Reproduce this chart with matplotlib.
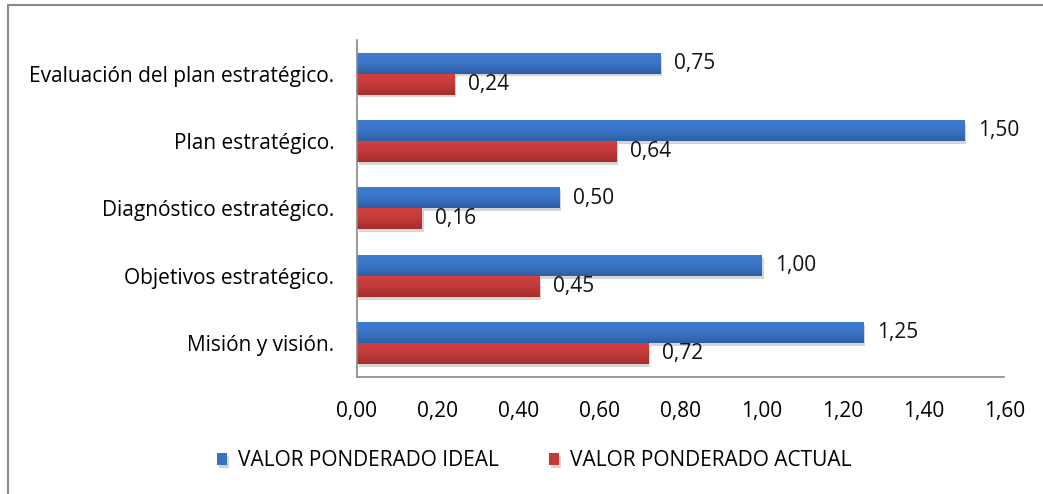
import matplotlib
matplotlib.use("Agg")
import matplotlib.pyplot as plt
import matplotlib.patheffects as pe
from matplotlib.patches import Rectangle
from matplotlib.colors import LinearSegmentedColormap
import numpy as np

plt.rcParams['font.family'] = ['Open Sans', 'DejaVu Sans']

categorias = ["Misión y visión.", "Objetivos estratégico.", "Diagnóstico estratégico.",
              "Plan estratégico.", "Evaluación del plan estratégico."]
valor_ideal = [1.25, 1.00, 0.50, 1.50, 0.75]
valor_actual = [0.72, 0.45, 0.16, 0.64, 0.24]
ticks_x = [0.0, 0.2, 0.4, 0.6, 0.8, 1.0, 1.2, 1.4, 1.6]

azul = "#3A72C2"
rojo = "#C23B3A"
grad_azul = LinearSegmentedColormap.from_list("azul", ["#2E5FA3", "#3A74C6", "#3E7CD1"])
grad_rojo = LinearSegmentedColormap.from_list("rojo", ["#A22E2D", "#C23A39", "#D0413F"])

fs = 15

fig = plt.figure(figsize=(10.43, 4.94), dpi=100)
ax = fig.add_axes([0.342, 0.237, 0.621, 0.682])

y = np.arange(len(categorias))
h = 0.31
sombra = [pe.SimplePatchShadow(offset=(1.5, -2), shadow_rgbFace="#888888", alpha=0.35), pe.Normal()]

b1 = ax.barh(y + h / 2, valor_ideal, height=h, color=azul, label="VALOR PONDERADO IDEAL",
             path_effects=sombra)
b2 = ax.barh(y - h / 2, valor_actual, height=h, color=rojo, label="VALOR PONDERADO ACTUAL",
             path_effects=sombra)

# degradado vertical sobre cada barra
grad = np.linspace(0, 1, 64).reshape(-1, 1)
for barras, cmap in ((b1, grad_azul), (b2, grad_rojo)):
    for rect in barras:
        x0, y0 = rect.get_x(), rect.get_y()
        ax.imshow(grad, cmap=cmap, aspect="auto", origin="lower", zorder=2.5,
                  extent=(x0, x0 + rect.get_width(), y0, y0 + rect.get_height()))

for barras, vals in ((b1, valor_ideal), (b2, valor_actual)):
    for rect, v in zip(barras, vals):
        ax.annotate(f"{v:.2f}".replace(".", ","),
                    (rect.get_width(), rect.get_y() + rect.get_height() / 2),
                    xytext=(10, 0), textcoords="offset points", va="center", ha="left",
                    fontsize=fs, color="#111111")

ax.set_xlim(0, 1.6)
ax.set_ylim(-0.5, len(categorias) - 0.5)
ax.set_xticks(ticks_x)
ax.set_xticklabels([f"{t:.2f}".replace(".", ",") for t in ticks_x], fontsize=fs)
ax.set_yticks(y)
ax.set_yticklabels(categorias, fontsize=fs)
ax.tick_params(length=0, pad=16)
ax.tick_params(axis="x", pad=17)
for lado in ("top", "right"):
    ax.spines[lado].set_visible(False)
for lado in ("left", "bottom"):
    ax.spines[lado].set_color("#888888")
    ax.spines[lado].set_linewidth(1.2)

fig.legend(handles=[b1, b2], loc="lower center", bbox_to_anchor=(0.512, 0.008), ncol=2,
           frameon=False, fontsize=fs, handlelength=0.5, handleheight=0.5,
           handletextpad=0.5, columnspacing=2.4)

# marco del gráfico
fig.patches.append(Rectangle((8 / 1043, -0.1), 1.2, (494 - 5) / 494 + 0.1,
                             transform=fig.transFigure, fill=False,
                             edgecolor="#888888", linewidth=1.5))

fig.savefig("out.png", dpi=100)
